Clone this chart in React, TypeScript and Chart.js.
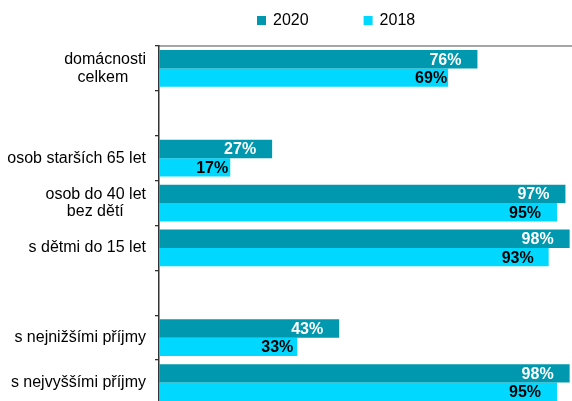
import React, { useEffect, useRef } from 'react';
import { Chart, registerables } from 'chart.js';

Chart.register(...registerables);

// ---- data ----
const categories: (string | string[])[] = [
  ['domácnosti', 'celkem'],
  '',
  'osob starších 65 let',
  ['osob do 40 let', 'bez dětí'],
  's dětmi do 15 let',
  '',
  's nejnižšími příjmy',
  's nejvyššími příjmy',
];
const seriesNames = ['2020', '2018'];
const values2020: (number | null)[] = [76, null, 27, 97, 98, null, 43, 98];
const values2018: (number | null)[] = [69, null, 17, 95, 93, null, 33, 95];
const xMin = 0;
const xMax = 100;

// ---- style ----
const FONT = '"Liberation Sans", Arial, sans-serif';
const COLORS = ['#0098AE', '#00D8FF'];
const LABEL_COLORS = ['#FFFFFF', '#000000'];
const LABEL_INSETS = [
  [16, 0, 16, 16, 16, 0, 16, 16],
  [1, 0, 2, 16, 15, 0, 4, 16],
];
const CANVAS_W = 590;
const CANVAS_H = 410;

let measureCtx: CanvasRenderingContext2D | null = null;
function centerLines(label: string | string[]): string | string[] {
  if (!Array.isArray(label)) return label;
  if (!measureCtx) measureCtx = document.createElement('canvas').getContext('2d');
  const m = measureCtx!;
  m.font = `16px ${FONT}`;
  const widths = label.map((l) => m.measureText(l).width);
  const max = Math.max(...widths);
  const sp = m.measureText(' ').width;
  return label.map((l, i) => l + ' '.repeat(Math.round((max - widths[i]) / 2 / sp)));
}

const valueLabelPlugin = {
  id: 'valueLabels',
  afterDatasetsDraw(chart: any) {
    const ctx = chart.ctx;
    ctx.save();
    ctx.font = `bold 16px ${FONT}`;
    ctx.textAlign = 'right';
    ctx.textBaseline = 'middle';
    chart.data.datasets.forEach((ds: any, di: number) => {
      const meta = chart.getDatasetMeta(di);
      meta.data.forEach((el: any, i: number) => {
        const v = ds.data[i];
        if (v == null) return;
        ctx.fillStyle = LABEL_COLORS[di];
        ctx.fillText(`${v}%`, el.x - LABEL_INSETS[di][i], el.y + 1);
      });
    });
    ctx.restore();
  },
};

const legendPlugin = {
  id: 'topLegend',
  afterDraw(chart: any) {
    const ctx = chart.ctx;
    ctx.save();
    ctx.font = `16px ${FONT}`;
    ctx.textBaseline = 'middle';
    ctx.textAlign = 'left';
    let x = 257;
    const y = 20.5;
    chart.data.datasets.forEach((ds: any) => {
      ctx.fillStyle = ds.backgroundColor;
      ctx.fillRect(x, y - 4.5, 9, 9);
      x += 9 + 7;
      ctx.fillStyle = '#000';
      ctx.fillText(ds.label, x, y);
      x += ctx.measureText(ds.label).width + 55;
    });
    ctx.restore();
  },
};

export default function App() {
  const ref = useRef<HTMLCanvasElement>(null);

  useEffect(() => {
    if (!ref.current) return;
    const chart = new Chart(ref.current, {
      type: 'bar',
      data: {
        labels: categories,
        datasets: [
          {
            label: seriesNames[0],
            data: values2020,
            backgroundColor: COLORS[0],
            categoryPercentage: 0.82,
            barPercentage: 1,
          },
          {
            label: seriesNames[1],
            data: values2018,
            backgroundColor: COLORS[1],
            categoryPercentage: 0.82,
            barPercentage: 1,
          },
        ],
      },
      options: {
        indexAxis: 'y',
        responsive: false,
        maintainAspectRatio: false,
        animation: false,
        devicePixelRatio: 1,
        layout: { padding: { top: 46, left: 0, right: CANVAS_W - 578, bottom: CANVAS_H - 405 } },
        plugins: {
          legend: { display: false },
          tooltip: { enabled: false },
        },
        scales: {
          x: {
            type: 'linear',
            position: 'top',
            min: xMin,
            max: xMax,
            ticks: { display: false },
            grid: { display: true, drawOnChartArea: false, drawTicks: false },
            border: { display: true, color: '#A6A6A6', width: 2 },
          },
          y: {
            type: 'category',
            position: 'left',
            afterFit: (scale: any) => {
              scale.width = 159;
              scale.paddingTop = 0;
              scale.paddingBottom = 0;
            },
            ticks: {
              color: '#000',
              font: { family: FONT, size: 16, lineHeight: 1.1 },
              padding: 9,
              autoSkip: false,
              callback: (_v: any, index: number) => centerLines(categories[index]),
            },
            grid: {
              display: true,
              offset: true,
              drawOnChartArea: false,
              drawTicks: true,
              tickLength: 4,
              color: '#333333',
              lineWidth: 1.3,
            },
            border: { display: true, color: '#333333', width: 1.5 },
          },
        },
      },
      plugins: [valueLabelPlugin, legendPlugin],
    } as any);
    return () => chart.destroy();
  }, []);

  return (
    <div
      style={{
        position: 'fixed',
        left: 0,
        top: 0,
        width: 572,
        height: 401,
        overflow: 'hidden',
        background: '#fff',
      }}
    >
      <div style={{ width: CANVAS_W, height: CANVAS_H }}>
        <canvas
          ref={ref}
          width={CANVAS_W}
          height={CANVAS_H}
          style={{ display: 'block', width: CANVAS_W, height: CANVAS_H }}
        />
      </div>
    </div>
  );
}
